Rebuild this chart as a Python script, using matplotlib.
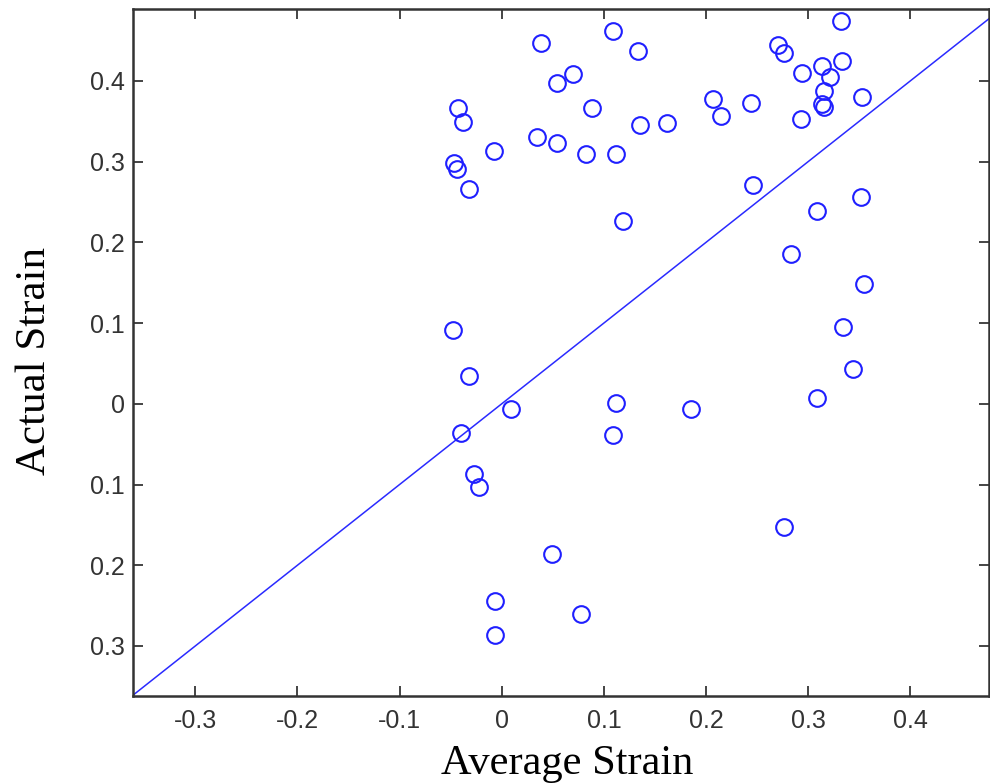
import matplotlib
matplotlib.use("Agg")
import matplotlib.pyplot as plt

# values
avg_strain = [
    -0.043, -0.038, -0.047, -0.044, -0.032, -0.008, 0.038, 0.109, 0.133, 0.070,
    0.054, 0.088, 0.135, 0.035, 0.054, 0.082, 0.112, 0.119, 0.332, 0.270,
    0.276, 0.333, 0.314, 0.294, 0.321, 0.315, 0.314, 0.315, 0.353, 0.293,
    0.244, 0.207, 0.215, 0.162, 0.246, 0.352, 0.309, -0.048, -0.032, 0.009,
    -0.040, 0.112, 0.109, 0.283, 0.355, 0.334, 0.344, 0.309, 0.185, -0.027,
    -0.022, 0.049, -0.007, 0.078, -0.007, 0.276,
]
actual_strain = [
    0.366, 0.349, 0.298, 0.291, 0.266, 0.313, 0.447, 0.462, 0.437, 0.409,
    0.397, 0.367, 0.345, 0.330, 0.323, 0.310, 0.310, 0.226, 0.474, 0.445,
    0.435, 0.424, 0.418, 0.410, 0.405, 0.388, 0.371, 0.368, 0.380, 0.353,
    0.372, 0.377, 0.357, 0.348, 0.271, 0.256, 0.239, 0.092, 0.035, -0.007,
    -0.036, 0.001, -0.039, 0.186, 0.149, 0.095, 0.043, 0.007, -0.006, -0.087,
    -0.103, -0.186, -0.244, -0.261, -0.286, -0.152,
]

# reference line y = x
diag = [-0.37, 0.49]

xticks = [-0.3, -0.2, -0.1, 0.0, 0.1, 0.2, 0.3, 0.4]
xtick_labels = ["-0.3", "-0.2", "-0.1", "0", "0.1", "0.2", "0.3", "0.4"]
yticks = [-0.3, -0.2, -0.1, 0.0, 0.1, 0.2, 0.3, 0.4]
ytick_labels = ["0.3", "0.2", "0.1", "0", "0.1", "0.2", "0.3", "0.4"]

fig = plt.figure(figsize=(9.9, 7.84), dpi=100)
ax = fig.add_axes([0.1343, 0.1122, 0.8647, 0.8763])

ax.plot(diag, diag, color="#2a2aff", linewidth=1.1)
ax.plot(
    avg_strain,
    actual_strain,
    linestyle="none",
    marker="o",
    markersize=12,
    markerfacecolor="none",
    markeredgecolor="#1f1fff",
    markeredgewidth=1.5,
)

ax.set_xlim(-0.361, 0.477)
ax.set_ylim(-0.362, 0.489)

ax.set_xticks(xticks)
ax.set_xticklabels(xtick_labels)
ax.set_yticks(yticks)
ax.set_yticklabels(ytick_labels)
for lbl in ax.get_xticklabels() + ax.get_yticklabels():
    lbl.set_family("Liberation Sans")

ax.tick_params(
    direction="in",
    length=7,
    width=1.4,
    color="#444444",
    labelcolor="#333333",
    labelsize=18,
    top=True,
    right=True,
)
ax.tick_params(axis="x", pad=9)
ax.tick_params(axis="y", pad=6)
for sp in ax.spines.values():
    sp.set_linewidth(1.8)
    sp.set_color("#333333")

ax.set_xlabel("Average Strain", family="Liberation Serif", fontsize=30.5)
ax.set_ylabel("Actual Strain", family="Liberation Serif", fontsize=31)
ax.xaxis.set_label_coords(0.507, -0.070)
ax.yaxis.set_label_coords(-0.092, 0.488)

fig.savefig("out.png", dpi=100)
